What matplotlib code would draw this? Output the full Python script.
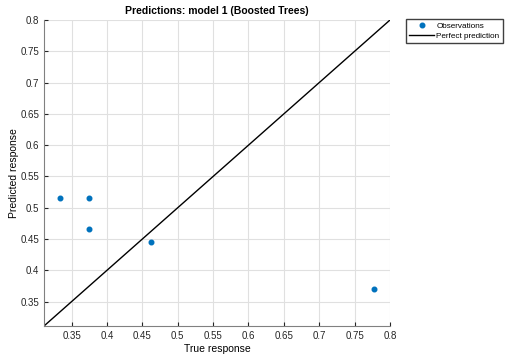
import numpy as np
import matplotlib
matplotlib.use("Agg")
import matplotlib.pyplot as plt

# observations
true_resp = [0.333, 0.375, 0.375, 0.462, 0.778]
pred_resp = [0.515, 0.515, 0.466, 0.445, 0.370]

lims = [0.311, 0.8]
ticks = [0.35, 0.4, 0.45, 0.5, 0.55, 0.6, 0.65, 0.7, 0.75, 0.8]

plt.rcParams["font.family"] = ["Liberation Sans", "DejaVu Sans"]

fig = plt.figure(figsize=(5.06, 3.56), dpi=100)
ax = fig.add_axes([44 / 506, 30 / 356, 346 / 506, 306 / 356])

ax.plot(true_resp, pred_resp, "o", color="#0072BD", markersize=3.3,
        label="Observations", zorder=3)
ax.plot(lims, lims, "-", color="black", linewidth=1.0,
        label="Perfect prediction", zorder=2)

ax.set_xlim(lims)
ax.set_ylim(lims)
ax.set_xticks(ticks)
ax.set_yticks(ticks)
ax.set_xticklabels([f"{t:g}" for t in ticks])
ax.set_yticklabels([f"{t:g}" for t in ticks])
ax.tick_params(direction="in", length=3, labelsize=7, colors="#262626",
               labelcolor="#262626")
ax.grid(True, color="#e0e0e0", linewidth=0.8)
ax.set_axisbelow(True)

for s in ["top", "right"]:
    ax.spines[s].set_visible(False)
for s in ["left", "bottom"]:
    ax.spines[s].set_color("#808080")
    ax.spines[s].set_linewidth(0.8)

ax.set_title("Predictions: model 1 (Boosted Trees)", fontsize=7.5,
             fontweight="bold", pad=4)
ax.set_xlabel("True response", fontsize=7.5, labelpad=2)
ax.set_ylabel("Predicted response", fontsize=7.5, labelpad=1)

# legend sits outside the axes on the right, like the MATLAB export
fig.legend(loc="upper left", bbox_to_anchor=(406 / 506, 1 - 19 / 356),
           fontsize=5.9, frameon=True, fancybox=False, edgecolor="#404040",
           framealpha=1, borderpad=0.4, handlelength=3.0, labelspacing=0.3,
           handletextpad=0.3, borderaxespad=0)

fig.savefig("out.png", dpi=100)
